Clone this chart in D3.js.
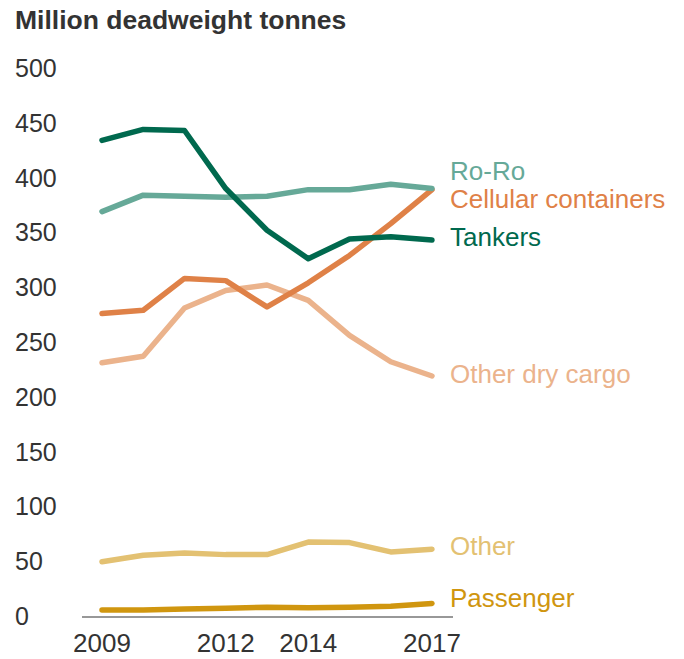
<!DOCTYPE html>
<html><head><meta charset="utf-8">
<script src="https://cdn.jsdelivr.net/npm/d3@7"></script>
<style>body{margin:0;background:#fff;} text{font-family:"Liberation Sans",Arial,sans-serif;}</style>
</head><body><svg id="c" width="684" height="659"></svg>
<script>
const years = [2009,2010,2011,2012,2013,2014,2015,2016,2017];
const xTickLabels = [2009,2012,2014,2017];
const yTicks = [0,50,100,150,200,250,300,350,400,450,500];
const seriesNames = ["Ro-Ro","Cellular containers","Tankers","Other dry cargo","Other","Passenger"];
const roRo = [369,384,383,382,383,389,389,394,390];
const cellular = [276,279,308,306,282,304,329,358,389];
const tankers = [434,444,443,390,352,326,344,346,343];
const otherDry = [231,237,281,297,302,288,256,232,219];
const other = [49.5,55.5,57.5,56,56,67.5,67,58.5,61];
const passenger = [5.5,5.5,6.5,7,8,7.5,8,9,11.5];
const colors = ["#66a998","#df8147","#00694e","#ebb38c","#e3c172","#d0960f"];
const labelY = [406,381,346,221,64,17];

const svg = d3.select("#c");
const x = d3.scaleLinear().domain([2009,2017]).range([102,432]);
const y = d3.scaleLinear().domain([0,500]).range([616,68]);

svg.append("text").attr("x",15).attr("y",29).attr("font-size",26.5).attr("font-weight","bold").attr("fill","#333").text("Million deadweight tonnes");

svg.append("g").selectAll("text").data(yTicks).join("text")
  .attr("x",15).attr("y",d=>y(d)).attr("dy","0.36em").attr("font-size",25).attr("fill","#333").text(d=>d);

svg.append("g").selectAll("text").data(xTickLabels).join("text")
  .attr("x",d=>x(d)).attr("y",652).attr("text-anchor","middle").attr("font-size",26).attr("fill","#333").text(d=>d);

svg.append("line").attr("x1",82).attr("x2",453).attr("y1",617).attr("y2",617).attr("stroke","#333").attr("stroke-width",1.2);

const data = [roRo,cellular,tankers,otherDry,other,passenger];
const line = d3.line().x((d,i)=>x(years[i])).y(d=>y(d));
const order = [4,5,3,1,0,2];
order.forEach(i=>{
  svg.append("path").attr("d",line(data[i])).attr("fill","none").attr("stroke",colors[i])
    .attr("stroke-width",5.5).attr("stroke-linecap","round").attr("stroke-linejoin","round");
});
seriesNames.forEach((n,i)=>{
  svg.append("text").attr("x",450).attr("y",y(labelY[i])).attr("dy","0.36em").attr("font-size",26).attr("fill",colors[i]).text(n);
});
</script></body></html>
